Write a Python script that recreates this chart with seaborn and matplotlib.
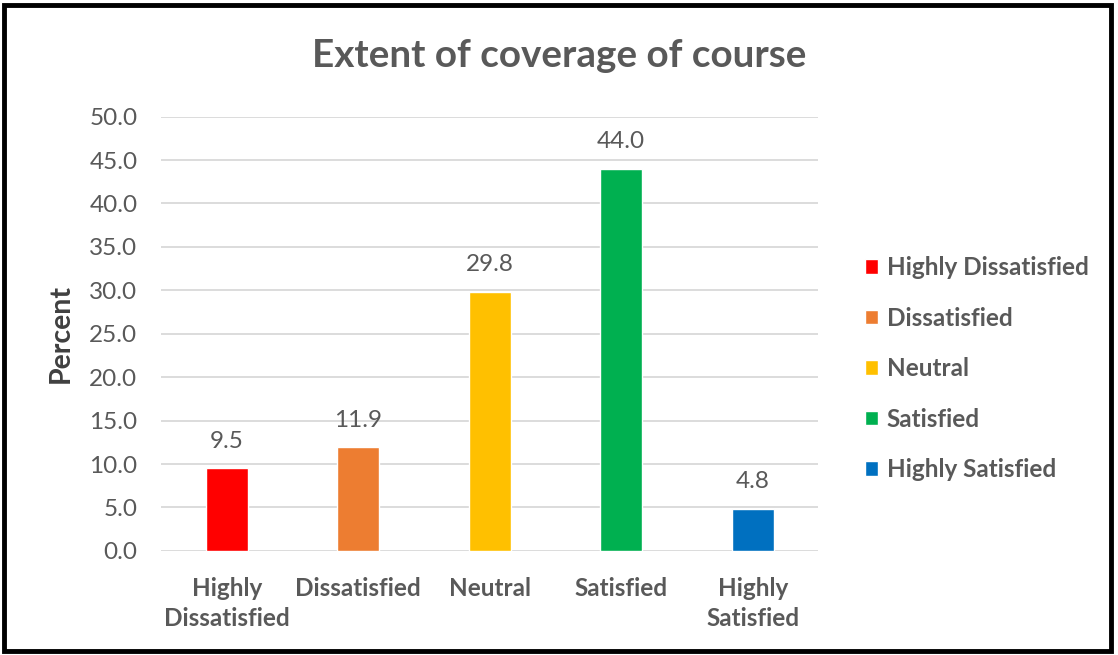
import matplotlib
matplotlib.use('Agg')
import matplotlib.pyplot as plt
import seaborn as sns
import pandas as pd
from matplotlib.patches import Rectangle

categories = ['Highly Dissatisfied', 'Dissatisfied', 'Neutral', 'Satisfied', 'Highly Satisfied']
tick_labels = ['Highly\nDissatisfied', 'Dissatisfied', 'Neutral', 'Satisfied', 'Highly\nSatisfied']
percent = [9.5, 11.9, 29.8, 44.0, 4.8]
colors = ['#FF0000', '#ED7D31', '#FFC000', '#00B050', '#0070C0']

TEXT = '#595959'

sns.set_style('white')
plt.rcParams['font.family'] = ['Lato', 'DejaVu Sans']

df = pd.DataFrame({'category': categories, 'percent': percent})

fig = plt.figure(figsize=(11.18, 6.55), dpi=100)
ax = fig.add_axes([0.144, 0.159, 0.588, 0.663])

sns.barplot(data=df, x='category', y='percent', hue='category',
            hue_order=categories, order=categories, palette=colors,
            saturation=1, width=0.32, dodge=False, ax=ax, legend=True)

ax.set_ylim(0, 50)
ax.set_yticks([i * 5 for i in range(11)])
ax.set_yticklabels([f'{i * 5:.1f}' for i in range(11)], fontsize=17.5, color=TEXT)
ax.set_xticks(range(len(categories)))
ax.set_xticklabels(tick_labels, fontsize=17.5, color=TEXT, fontweight='bold',
                   linespacing=1.35)
ax.tick_params(axis='y', length=0, pad=17)
ax.tick_params(axis='x', length=0, pad=19)
ax.yaxis.grid(True, color='#D9D9D9', linewidth=1.3)
ax.set_axisbelow(True)
for s in ax.spines.values():
    s.set_visible(False)
ax.set_xlabel('')
ax.set_ylabel('Percent', fontsize=20.5, fontweight='bold', color='#404040', labelpad=11)

for c in ax.containers:
    ax.bar_label(c, fmt='%.1f', padding=12, fontsize=17.5, color=TEXT)

handles, labels = ax.get_legend_handles_labels()
ax.legend(handles, labels, loc='center left', bbox_to_anchor=(0.754, 0.437),
          bbox_transform=fig.transFigure, frameon=False, handlelength=0.54,
          handleheight=0.54, handletextpad=0.37, labelspacing=1.13,
          prop={'weight': 'bold', 'size': 17.5}, labelcolor=TEXT)

fig.suptitle('Extent of coverage of course', x=0.5, y=0.916, va='center',
             fontsize=27.8, fontweight='bold', color=TEXT)

fig.patches.append(Rectangle((0.004, 0.006), 0.990, 0.986, transform=fig.transFigure,
                             fill=False, edgecolor='black', linewidth=3.5))

fig.savefig('out.png', dpi=100)
